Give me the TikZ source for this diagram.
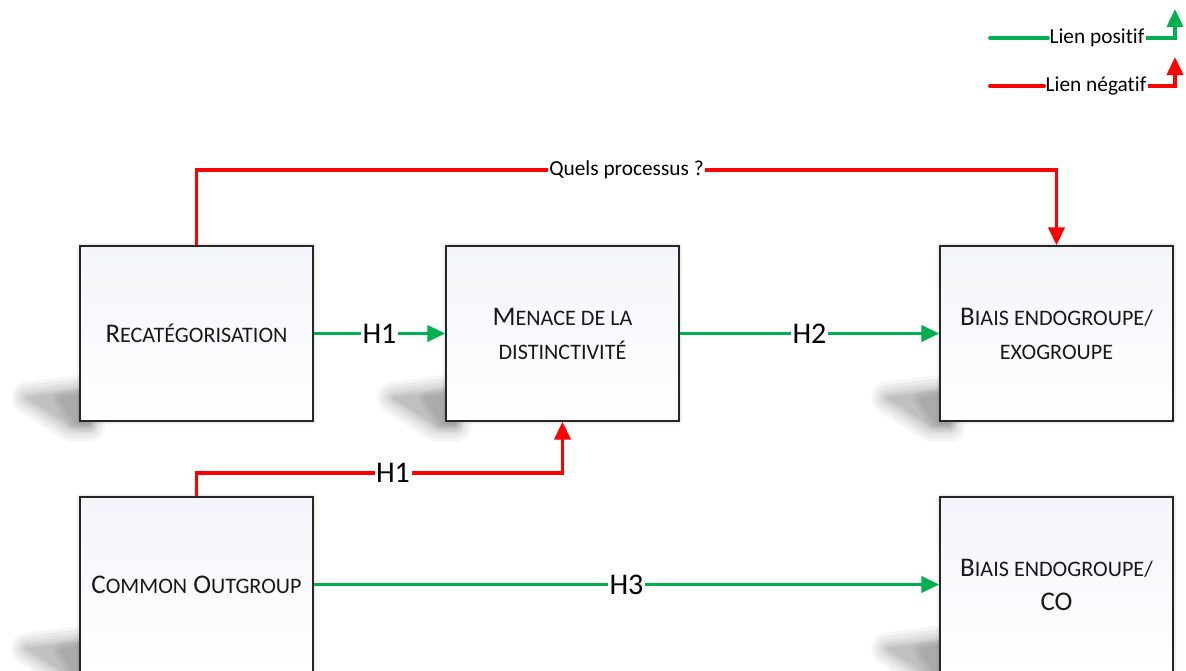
\documentclass[tikz,border=0pt]{standalone}
\usepackage{fontspec}
\setmainfont[Ligatures=NoCommon]{Carlito}
\usetikzlibrary{arrows.meta,calc,backgrounds,shadows.blur}
\definecolor{posgreen}{HTML}{00B050}
\definecolor{negred}{HTML}{FF0000}
\definecolor{boxtop}{HTML}{F2F5FA}
\newcommand{\Sm}[1]{{\fontsize{16.6}{25.5}\selectfont #1}}
\tikzset{
  box/.style={draw=black!85, line width=1pt, minimum width=174.75pt, minimum height=131.25pt,
    top color=boxtop, bottom color=white, align=center, text=black!90,
    font=\fontsize{20.2}{25.5}\selectfont,
    blur shadow={shadow xshift=0pt, shadow yshift=0pt, shadow blur steps=6, shadow blur radius=3pt, shadow opacity=25}},
  poslink/.style={draw=posgreen, line width=2.8pt},
  neglink/.style={draw=negred, line width=2.8pt},
  tip/.style={-{Triangle[length=13.5pt,width=12pt]}},
  hlab/.style={fill=white, inner sep=1pt, font=\fontsize{22.5}{26}\selectfont},
  slab/.style={fill=white, inner sep=1pt, font=\fontsize{16}{19}\selectfont},
  persp/.style={fill=black, draw=black, line join=round},
}
\begin{document}
\begin{tikzpicture}[x=0.75pt,y=-0.75pt]
\useasboundingbox (0,0) rectangle (1186,671);

% boxes
\node[box] (rec) at (196.5,333.5) {R\Sm{ECATÉGORISATION}};
\node[box] (men) at (562.5,333.5) {M\Sm{ENACE DE LA}\\\Sm{DISTINCTIVITÉ}};
\node[box] (bi1) at (1056.5,333.5) {B\Sm{IAIS ENDOGROUPE/}\\\Sm{EXOGROUPE}};
\node[box] (co)  at (196.5,584.5) {C\Sm{OMMON} O\Sm{UTGROUP}};
\node[box] (bi2) at (1056.5,584.5) {B\Sm{IAIS ENDOGROUPE/}\\CO};

% perspective shadows (soft, stacked)
\begin{scope}[on background layer]
\foreach \b in {rec,men,bi1,co,bi2}{
  \foreach \w in {24,19,14,10,6,3,0.5}{
    \begin{scope}[transparency group, opacity=0.038]
    \filldraw[persp, line width=\w pt] ($(\b.south west)+(-52,-24)$) -- ($(\b.south west)+(10,-32)$) -- ($(\b.south west)+(10,4)$) -- ($(\b.south west)+(-8,4)$) -- cycle;
    \end{scope}
  }
  \foreach \w in {12,7,3}{
    \begin{scope}[transparency group, opacity=0.04]
    \filldraw[persp, line width=\w pt] ($(\b.south west)+(-18,-22)$) -- ($(\b.south west)+(10,-28)$) -- ($(\b.south west)+(10,2)$) -- ($(\b.south west)+(-2,2)$) -- cycle;
    \end{scope}
  }
}
\end{scope}

% helper coordinates
\coordinate (qp) at (626,170);
\coordinate (h1c) at (393,473);

% Quels processus ?
\draw[neglink,tip] (rec.north) -- (rec.north |- qp) -- node[slab,pos=0.5, text=black]{Quels processus ?} (bi1.north |- qp) -- (bi1.north);

% H1 positive
\draw[poslink,tip] (rec.east) -- node[hlab]{H1} (men.west);
% H2
\draw[poslink,tip] (men.east) -- node[hlab]{H2} (bi1.west);
% H1 negative
\draw[neglink] (co.north) -- (co.north |- h1c) -- (h1c);
\node[hlab] (h1n) at (h1c) {H1};
\draw[neglink,tip] (h1n.east) -- (men.south |- h1c) -- (men.south);
% H3
\draw[poslink,tip] (co.east |- bi2.west) -- node[hlab]{H3} (bi2.west);

% legend
\coordinate (lp1) at (990,38);
\coordinate (lp2) at (1175,9);
\node[slab] (lpt) at (1097,38) {Lien positif};
\draw[poslink, line cap=round] (lp1) -- (lpt.west);
\draw[poslink,tip] (lpt.east) -| (lp2);

\coordinate (ln1) at (990,86);
\coordinate (ln2) at (1175,57);
\node[slab] (lnt) at (1096,86) {Lien négatif};
\draw[neglink, line cap=round] (ln1) -- (lnt.west);
\draw[neglink,tip] (lnt.east) -| (ln2);
\end{tikzpicture}
\end{document}
